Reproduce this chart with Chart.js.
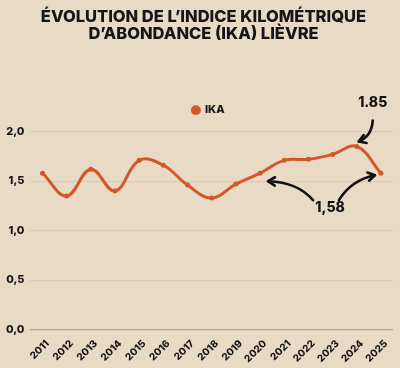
<!DOCTYPE html>
<html>
<head>
<meta charset="utf-8">
<script src="https://cdn.jsdelivr.net/npm/chart.js@4.4.1/dist/chart.umd.min.js"></script>
<style>
html,body{margin:0;padding:0;background:#e9dac6;}
#wrap{width:400px;height:368px;position:relative;}
</style>
</head>
<body>
<div id="wrap"><canvas id="c" width="400" height="368"></canvas></div>
<script>
const years = ['2011','2012','2013','2014','2015','2016','2017','2018','2019','2020','2021','2022','2023','2024','2025'];
const ika = [1.58,1.35,1.62,1.40,1.71,1.66,1.46,1.33,1.47,1.58,1.71,1.72,1.77,1.85,1.58];
const yTicks = [0,0.5,1.0,1.5,2.0];
const titleLines = ['ÉVOLUTION DE L\u2019INDICE KILOMÉTRIQUE','D\u2019ABONDANCE (IKA) LIÈVRE'];
const seriesName = 'IKA';
const noteMax = '1.85';
const noteLast = '1,58';

const FONT = 'Inter, "DejaVu Sans", sans-serif';
const ORANGE = '#d2582a';

function arrow(ctx, x0, y0, cx, cy, x1, y1) {
  ctx.beginPath();
  ctx.moveTo(x0, y0);
  ctx.quadraticCurveTo(cx, cy, x1, y1);
  ctx.stroke();
  const a = Math.atan2(y1 - cy, x1 - cx);
  const L = 8, s = 0.55;
  ctx.beginPath();
  ctx.moveTo(x1 - L * Math.cos(a - s), y1 - L * Math.sin(a - s));
  ctx.lineTo(x1, y1);
  ctx.lineTo(x1 - L * Math.cos(a + s), y1 - L * Math.sin(a + s));
  ctx.stroke();
}

const shiftBoxes = {
  id: 'shiftBoxes',
  afterLayout(chart) {
    if (chart.legend) { chart.legend.left += 12; chart.legend.right += 12; }
    if (chart.titleBlock) { chart.titleBlock.left += 7; chart.titleBlock.right += 7; }
  }
};

const notes = {
  id: 'notes',
  afterDatasetsDraw(chart) {
    const ctx = chart.ctx;
    const meta = chart.getDatasetMeta(0).data;
    const pMax = meta[13], p2020 = meta[9], pLast = meta[14];
    ctx.save();
    ctx.fillStyle = '#111';
    ctx.strokeStyle = '#111';
    ctx.lineWidth = 2.6;
    ctx.lineCap = 'round';
    ctx.lineJoin = 'round';
    ctx.font = '800 14px ' + FONT;
    ctx.textAlign = 'center';
    ctx.textBaseline = 'middle';
    ctx.fillText(noteMax, pMax.x + 16, pMax.y - 44);
    arrow(ctx, pMax.x + 16, pMax.y - 26, pMax.x + 15, pMax.y - 10, pMax.x + 2, pMax.y - 5);
    ctx.fillText(noteLast, p2020.x + 70, p2020.y + 35);
    arrow(ctx, p2020.x + 53, p2020.y + 27, p2020.x + 38, p2020.y + 9, p2020.x + 8, p2020.y + 8);
    arrow(ctx, pLast.x - 42, pLast.y + 27, pLast.x - 30, pLast.y + 7, pLast.x - 6, pLast.y + 2);
    ctx.restore();
  }
};

new Chart(document.getElementById('c'), {
  type: 'line',
  data: {
    labels: years,
    datasets: [{
      label: seriesName,
      data: ika,
      borderColor: ORANGE,
      backgroundColor: ORANGE,
      borderWidth: 3,
      pointRadius: 2.5,
      pointHoverRadius: 2.5,
      pointBackgroundColor: ORANGE,
      pointBorderWidth: 0,
      tension: 0.4
    }]
  },
  options: {
    responsive: false,
    animation: false,
    devicePixelRatio: 1,
    layout: { padding: { left: 0, right: 7, top: 0, bottom: 3 } },
    plugins: {
      title: {
        display: true,
        text: titleLines,
        color: '#161616',
        font: { family: FONT, size: 16.5, weight: '800', lineHeight: 1.05 },
        padding: { top: 8, bottom: 40 }
      },
      legend: {
        display: true,
        labels: {
          usePointStyle: true,
          pointStyle: 'circle',
          boxWidth: 7,
          boxHeight: 7,
          color: '#161616',
          font: { family: FONT, size: 11, weight: '800' },
          padding: 22
        }
      },
      tooltip: { enabled: false }
    },
    scales: {
      x: {
        offset: true,
        grid: { display: false },
        border: { display: false },
        ticks: {
          color: '#161616',
          font: { family: FONT, size: 10, weight: '800' },
          minRotation: 45,
          maxRotation: 45,
          padding: 0,
          labelOffset: 5
        }
      },
      y: {
        min: 0,
        max: 2.06,
        afterBuildTicks(axis) { axis.ticks = yTicks.map(v => ({ value: v })); },
        grid: {
          color: ctx => ctx.tick && ctx.tick.value === 0 ? '#b7a48f' : '#dccbb6',
          lineWidth: 1.2,
          drawTicks: false
        },
        border: { display: false },
        ticks: {
          color: '#161616',
          font: { family: FONT, size: 11, weight: '800' },
          padding: 6,
          callback: v => v.toFixed(1).replace('.', ',')
        }
      }
    }
  },
  plugins: [notes, shiftBoxes]
});
</script>
</body>
</html>
